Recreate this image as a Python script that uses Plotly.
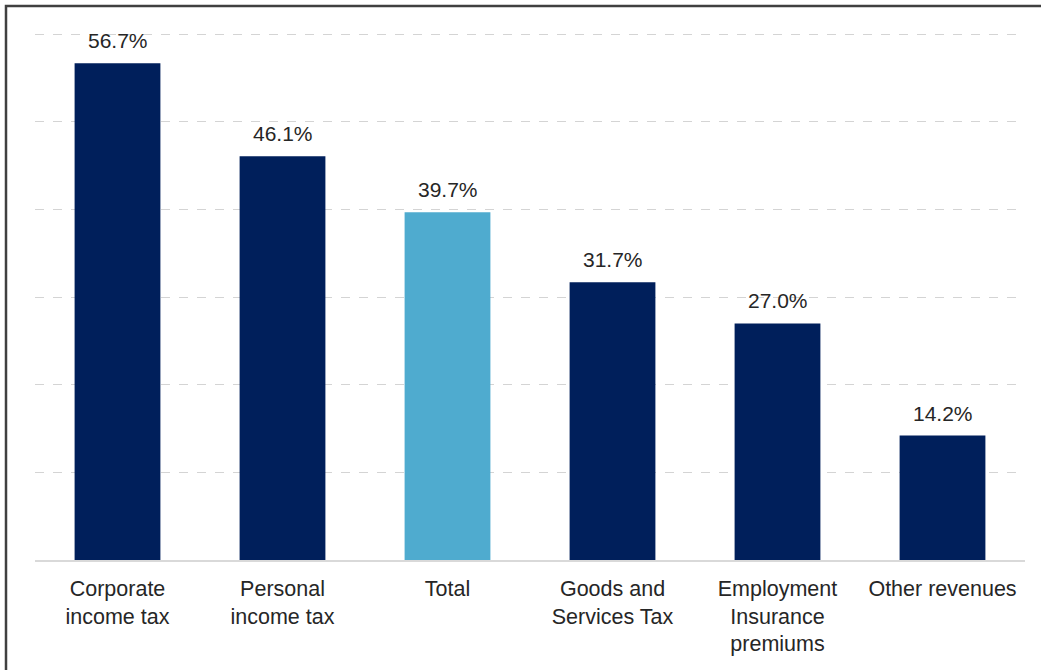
import plotly.graph_objects as go

categories = [
    "Corporate<br>income tax",
    "Personal<br>income tax",
    "Total",
    "Goods and<br>Services Tax",
    "Employment<br>Insurance<br>premiums",
    "Other revenues",
]
values = [56.7, 46.1, 39.7, 31.7, 27.0, 14.2]
value_labels = ["56.7%", "46.1%", "39.7%", "31.7%", "27.0%", "14.2%"]
bar_colors = ["#001F5B", "#001F5B", "#4FABCF", "#001F5B", "#001F5B", "#001F5B"]

W, H = 1041, 670
ML, MR, MT, MB = 35, 16, 30, 110
FONT = "Liberation Sans, Arial, sans-serif"

fig = go.Figure(
    go.Bar(
        x=categories,
        y=values,
        marker=dict(color=bar_colors, line=dict(width=0)),
        width=0.52,
        hoverinfo="skip",
    )
)

for cat, v, lab in zip(categories, values, value_labels):
    fig.add_annotation(
        x=cat, y=v, text=lab, showarrow=False,
        yanchor="bottom", yshift=9,
        font=dict(family=FONT, size=21, color="#262626"),
    )

# outer frame around the chart area
pw = W - ML - MR
ph = H - MT - MB
fig.add_shape(
    type="rect", xref="paper", yref="paper",
    x0=(6 - ML) / pw, x1=(W + 20 - ML) / pw,
    y0=(H - MB - (H + 20)) / ph, y1=(H - MB - 6) / ph,
    line=dict(color="#404040", width=2.5), fillcolor="rgba(0,0,0,0)", layer="above",
)

fig.update_layout(
    width=W, height=H,
    margin=dict(l=ML, r=MR, t=MT, b=MB),
    paper_bgcolor="white", plot_bgcolor="white",
    showlegend=False,
    bargap=0.48,
    font=dict(family=FONT, size=21, color="#262626"),
)
fig.update_xaxes(
    showline=True, linecolor="#D9D9D9", linewidth=1.5,
    showgrid=False, ticks="outside", ticklen=8, tickcolor="rgba(0,0,0,0)",
    tickfont=dict(family=FONT, size=21.5, color="#262626"),
)
fig.update_yaxes(
    range=[0, 60.5], tickvals=[10, 20, 30, 40, 50, 60], showticklabels=False,
    showgrid=True, gridcolor="#D4D4D4", griddash="dash", gridwidth=1,
    zeroline=False,
)

fig.write_html("out.html")
